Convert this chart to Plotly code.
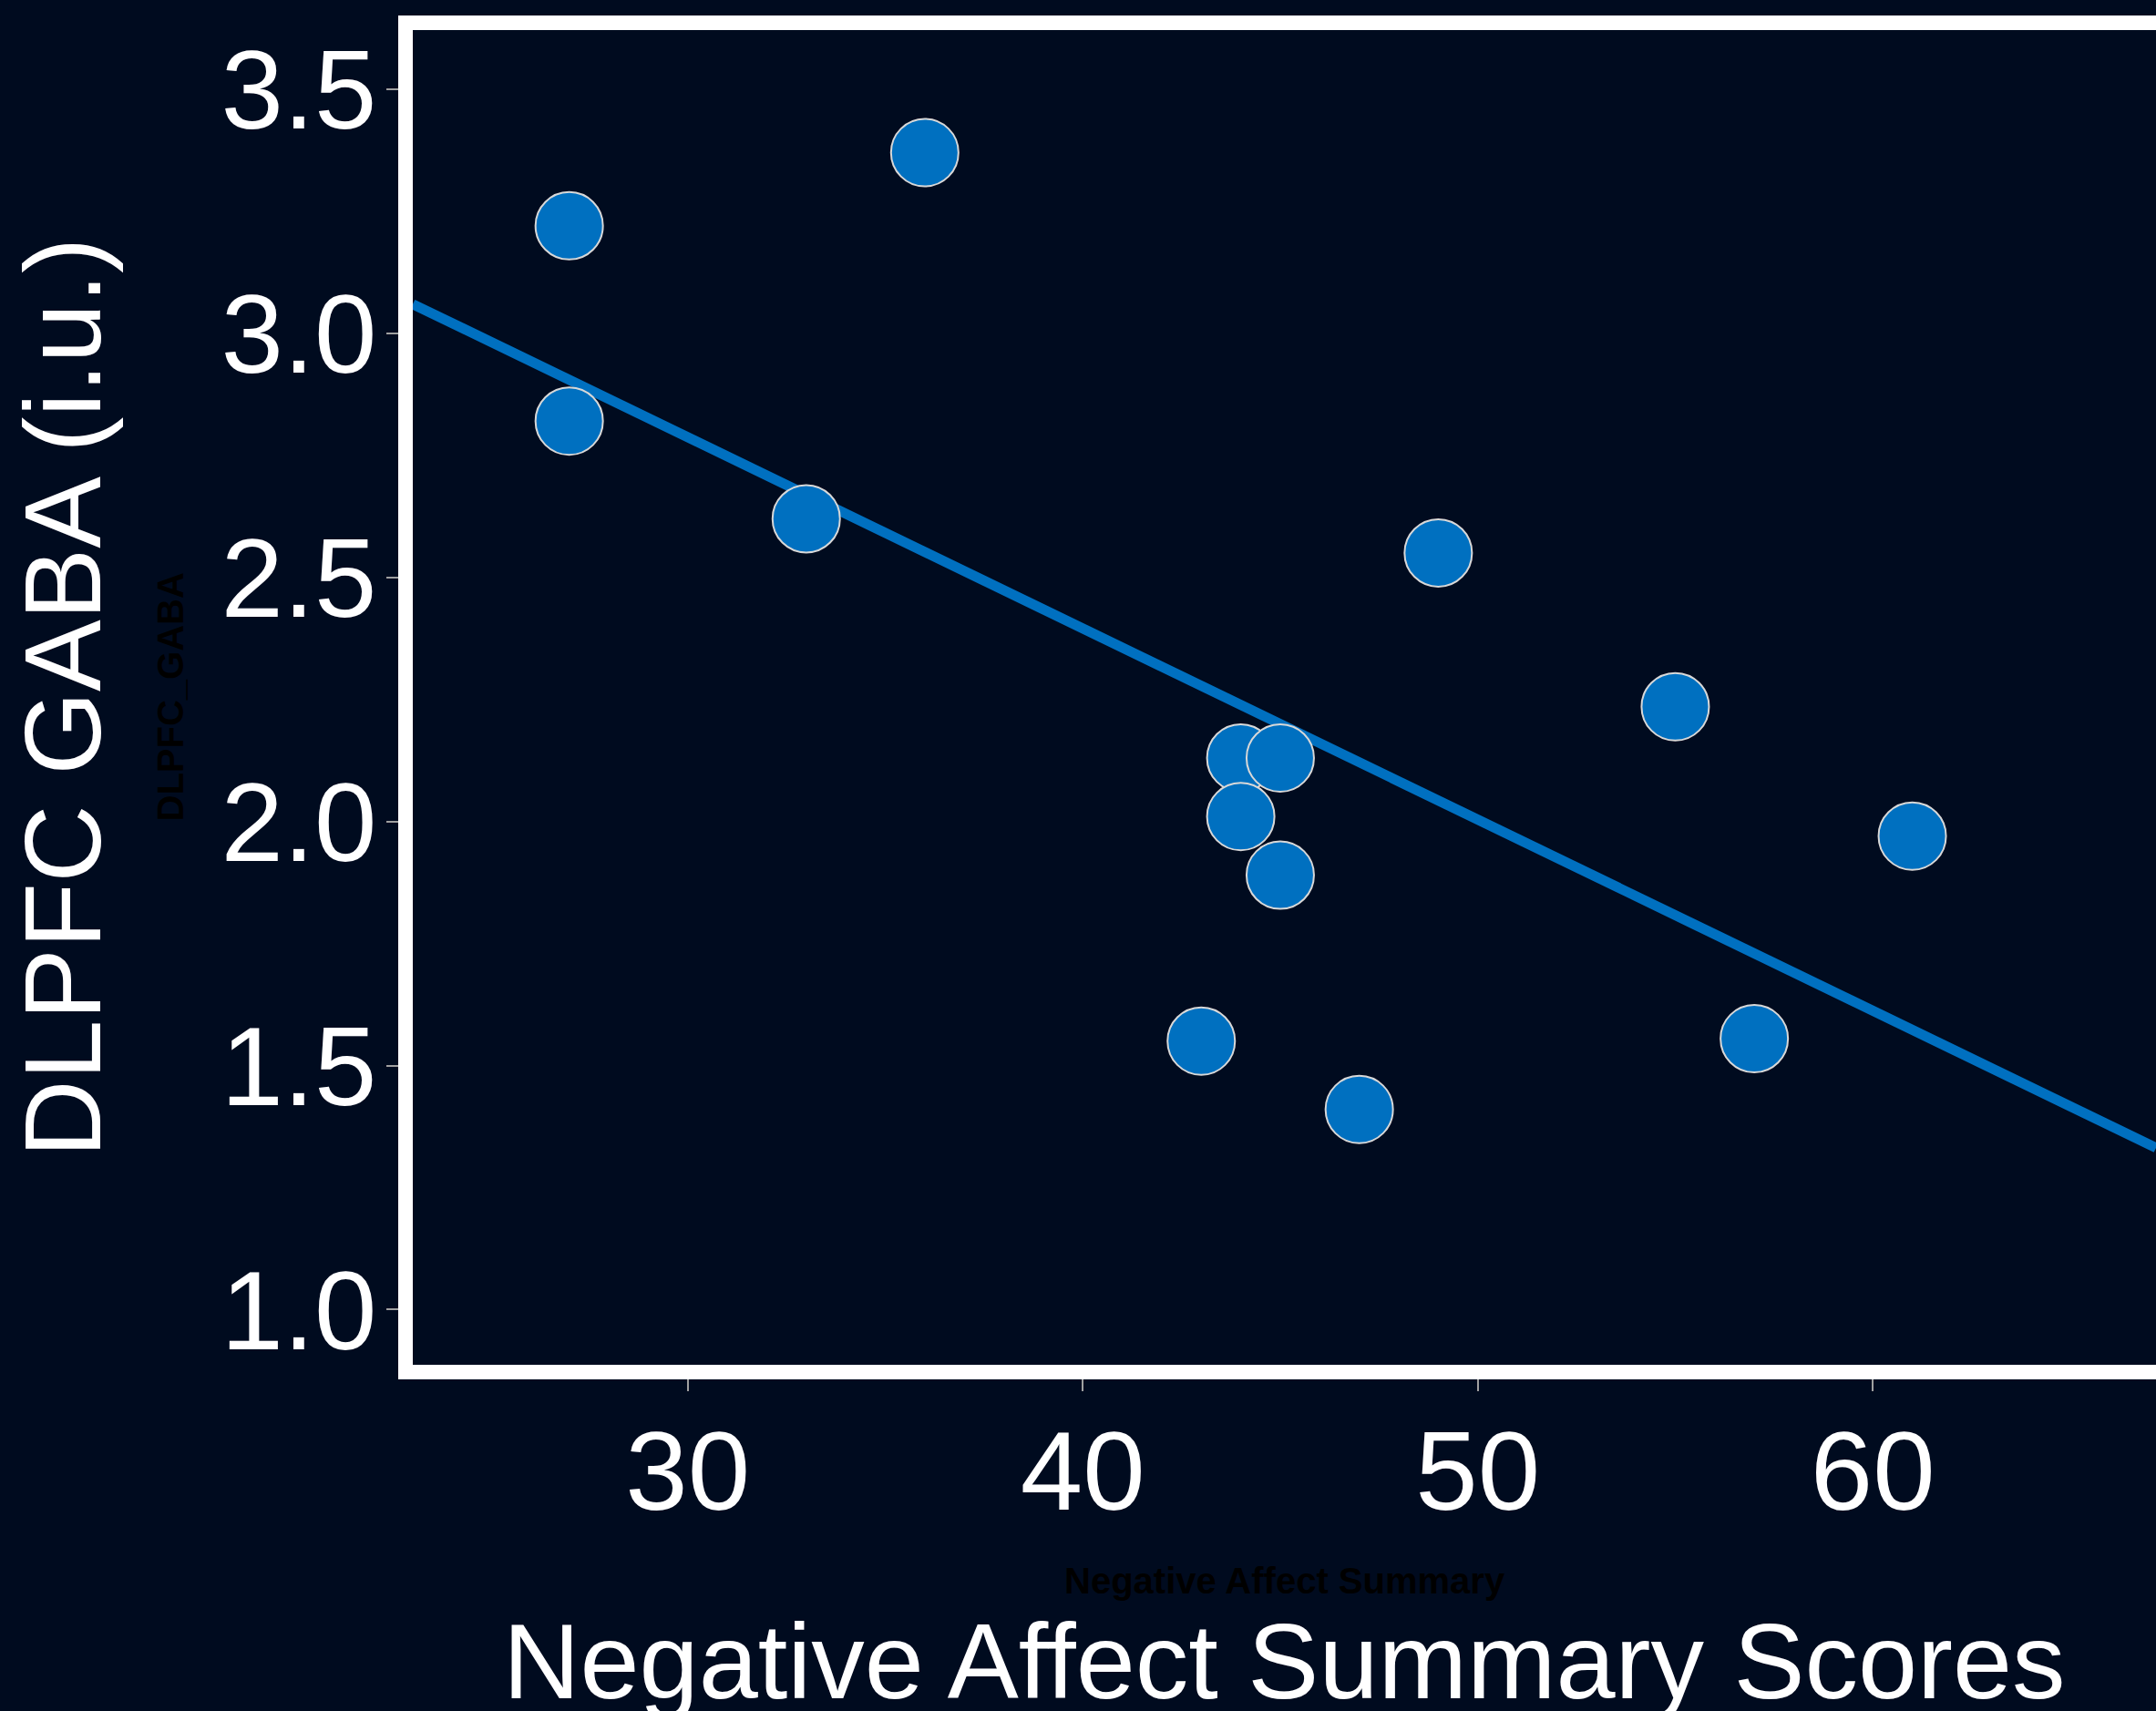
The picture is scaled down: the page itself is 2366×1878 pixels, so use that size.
import numpy as np
import plotly.graph_objects as go

# Data
neg_affect = [27, 27, 36, 33, 49, 55, 44, 45, 44, 45, 61, 43, 47, 57]
dlpfc_gaba = [3.22, 2.82, 3.37, 2.62, 2.55, 2.235, 2.13, 2.13, 2.01, 1.89, 1.97, 1.55, 1.41, 1.555]

x_ticks = [30, 40, 50, 60]
y_ticks = [1.0, 1.5, 2.0, 2.5, 3.0, 3.5]
y_ticklabels = ["1.0", "1.5", "2.0", "2.5", "3.0", "3.5"]

x_range = [23.04, 67.17]
y_range = [0.887, 3.621]

BG = "#000B1F"
BLUE = "#0070C0"

# linear fit (geom_smooth method = lm)
slope, intercept = np.polyfit(neg_affect, dlpfc_gaba, 1)
fit_x = np.array(x_range)
fit_y = slope * fit_x + intercept

fig = go.Figure()
fig.add_trace(go.Scatter(x=fit_x, y=fit_y, mode="lines",
                         line=dict(color=BLUE, width=11), hoverinfo="skip",
                         showlegend=False))
fig.add_trace(go.Scatter(x=neg_affect, y=dlpfc_gaba, mode="markers",
                         marker=dict(size=74, color=BLUE,
                                     line=dict(color="#d8d8d8", width=2)),
                         showlegend=False))

W, H = 2366, 1878
L, T, B, R = 453, 33, 380, 0

tickfont = dict(family="Liberation Sans, Arial, sans-serif", size=123, color="white")

fig.update_layout(
    width=W, height=H,
    margin=dict(l=L, r=R, t=T, b=B),
    paper_bgcolor=BG, plot_bgcolor=BG,
    xaxis=dict(range=x_range, tickvals=x_ticks, ticktext=[str(v) for v in x_ticks],
               showgrid=False, zeroline=False,
               showline=True, linecolor="white", linewidth=16, mirror=True,
               ticks="outside", ticklen=13, tickwidth=2, tickcolor="#a0a0a0",
               tickfont=tickfont, ticklabelstandoff=-18),
    yaxis=dict(range=y_range, tickvals=y_ticks, ticktext=y_ticklabels,
               showgrid=False, zeroline=False,
               showline=True, linecolor="white", linewidth=16, mirror=False,
               ticks="outside", ticklen=13, tickwidth=2, tickcolor="#a0a0a0",
               tickfont=tickfont, ticklabelstandoff=-14),
    font=dict(family="Liberation Sans, Arial, sans-serif", color="white"),
)

# Faint original (black) axis titles
fig.add_annotation(text="<b>Negative Affect Summary</b>", xref="paper", yref="paper",
                   x=0.5, y=0, yshift=-(1735 - (H - B)), xanchor="center", yanchor="middle",
                   showarrow=False,
                   font=dict(family="Liberation Sans Narrow, Arial Narrow, Liberation Sans", size=40, color="#000000"))
fig.add_annotation(text="<b>DLPFC_GABA</b>", xref="paper", yref="paper",
                   x=0, y=0.5, xshift=186 - L, xanchor="center", yanchor="middle",
                   textangle=-90, showarrow=False,
                   font=dict(family="Liberation Sans Narrow, Arial Narrow, Liberation Sans", size=40, color="#000000"))

# Main axis titles
fig.add_annotation(text="Negative Affect Summary Scores", xref="paper", yref="paper",
                   x=0.5, y=0, yshift=-(1823 - (H - B)), xanchor="center", yanchor="middle",
                   showarrow=False,
                   font=dict(family="Liberation Sans, Arial, sans-serif", size=117, color="white"))
fig.add_annotation(text="DLPFC GABA (i.u.)", xref="paper", yref="paper",
                   x=0, y=0.5, xshift=68 - L, xanchor="center", yanchor="middle",
                   textangle=-90, showarrow=False,
                   font=dict(family="Liberation Sans, Arial, sans-serif", size=118, color="white"))

fig.write_html("out.html", config={"displayModeBar": False},
               post_script="document.body.style.margin='0px';document.body.style.padding='0px';"
                           "document.body.style.background='" + BG + "';")
